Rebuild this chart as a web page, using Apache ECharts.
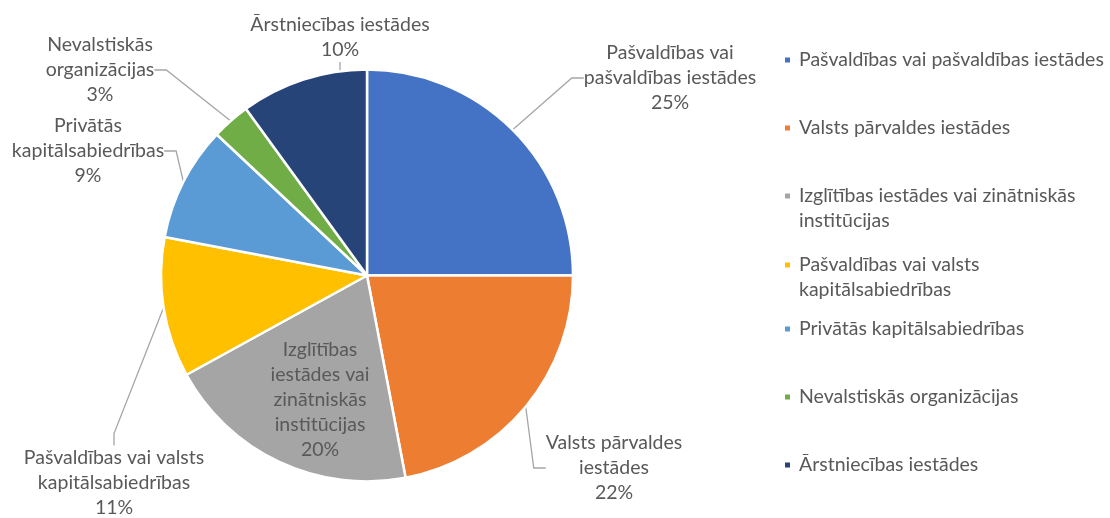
<!DOCTYPE html>
<html>
<head>
<meta charset="utf-8">
<script src="https://cdn.jsdelivr.net/npm/echarts@6/dist/echarts.min.js"></script>
<style>
  html, body { margin: 0; padding: 0; background: #fff; }
  #chart { width: 1110px; height: 518px; }
</style>
</head>
<body>
<div id="chart"></div>
<script>
const categories = [
  'Pašvaldības vai pašvaldības iestādes',
  'Valsts pārvaldes iestādes',
  'Izglītības iestādes vai zinātniskās institūcijas',
  'Pašvaldības vai valsts kapitālsabiedrības',
  'Privātās kapitālsabiedrības',
  'Nevalstiskās organizācijas',
  'Ārstniecības iestādes'
]
const shares = [25, 22, 20, 11, 9, 3, 10]
const colors = ['#4472C4', '#ED7D31', '#A5A5A5', '#FFC000', '#5B9BD5', '#70AD47', '#264478']

// line breaks used in the slice labels and in the legend
const labelLines = [
  ['Pašvaldības vai', 'pašvaldības iestādes'],
  ['Valsts pārvaldes', 'iestādes'],
  ['Izglītības', 'iestādes vai', 'zinātniskās', 'institūcijas'],
  ['Pašvaldības vai valsts', 'kapitālsabiedrības'],
  ['Privātās', 'kapitālsabiedrības'],
  ['Nevalstiskās', 'organizācijas'],
  ['Ārstniecības iestādes']
]
const legendLines = [
  ['Pašvaldības vai pašvaldības iestādes'],
  ['Valsts pārvaldes iestādes'],
  ['Izglītības iestādes vai zinātniskās', 'institūcijas'],
  ['Pašvaldības vai valsts', 'kapitālsabiedrības'],
  ['Privātās kapitālsabiedrības'],
  ['Nevalstiskās organizācijas'],
  ['Ārstniecības iestādes']
]

const FONT = 'Lato'
const TEXT = '#595959'
const FS = 19.5
const LH = 25

// layout: first-line centre of each legend entry, centre of each slice label
const legendRowY = [60, 128, 196, 265, 329, 397, 465]
const labelSpot = [[670, 78], [614, 468], [320, 400], [114, 483], [88, 151], [100, 70], [340, 37]]

const chart = echarts.init(document.getElementById('chart'))

const legends = categories.map((name, i) => {
  const two = legendLines[i].length > 1
  // a blank first row keeps the marker level with the first text row
  const fmt = two
    ? '{s| }\n' + legendLines[i].map(s => '{a|' + s + '}').join('\n')
    : '{a|' + legendLines[i][0] + '}'
  return {
    orient: 'vertical',
    left: 783,
    top: legendRowY[i] - (two ? LH * 1.5 : LH / 2),
    padding: 0,
    itemWidth: 7,
    itemHeight: 7,
    itemGap: 0,
    icon: 'rect',
    selectedMode: false,
    data: [name],
    formatter: () => fmt,
    textStyle: {
      fontFamily: FONT, fontSize: FS, lineHeight: LH, color: TEXT, padding: [0, 0, 0, 3],
      rich: {
        a: { fontFamily: FONT, fontSize: FS, lineHeight: LH, color: TEXT },
        s: { fontFamily: FONT, fontSize: FS, lineHeight: LH }
      }
    }
  }
})

const data = categories.map((name, i) => {
  const item = { name: name, value: shares[i], itemStyle: { color: colors[i] } }
  if (i === 2) {
    item.label = { position: 'inside' }
  }
  return item
})

const option = {
  animation: false,
  legend: legends,
  series: [{
    type: 'pie',
    center: [367, 275.5],
    radius: 206,
    startAngle: 90,
    clockwise: true,
    avoidLabelOverlap: false,
    itemStyle: { borderColor: '#fff', borderWidth: 2.5 },
    label: {
      show: true,
      formatter: p => labelLines[p.dataIndex].map(s => '{t|' + s + '}').join('\n') + '\n{t|' + p.value + '%}',
      fontFamily: FONT,
      fontSize: FS,
      lineHeight: LH,
      color: TEXT,
      rich: { t: { align: 'center', fontFamily: FONT, fontSize: FS, lineHeight: LH, color: TEXT } }
    },
    labelLine: {
      show: true,
      length: 30,
      length2: 12,
      lineStyle: { color: '#A6A6A6', width: 1.3 }
    },
    labelLayout: p => ({
      x: labelSpot[p.dataIndex][0],
      y: labelSpot[p.dataIndex][1],
      align: 'center',
      verticalAlign: 'middle',
      hideOverlap: false
    }),
    data: data
  }]
}

chart.setOption(option)
</script>
</body>
</html>
